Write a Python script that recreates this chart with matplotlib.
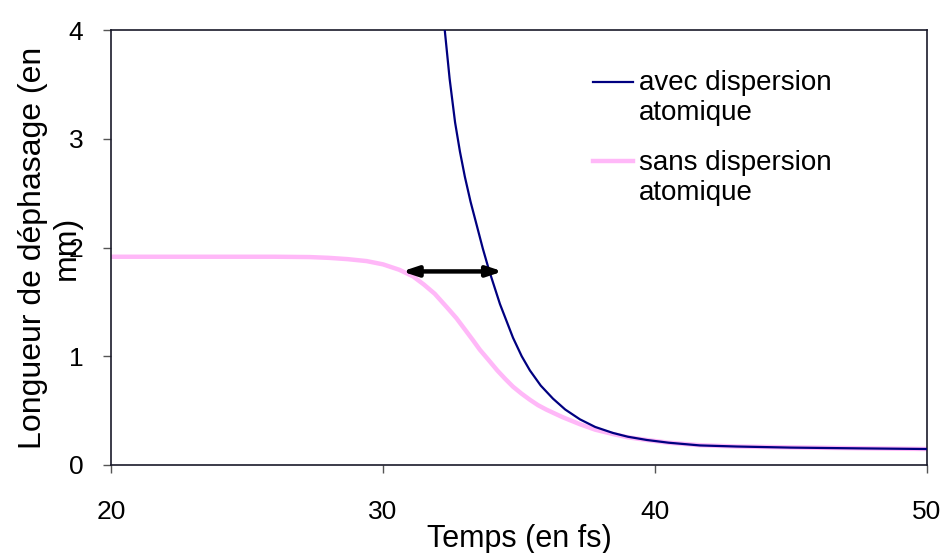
import matplotlib.pyplot as plt
from matplotlib.lines import Line2D

plt.rcParams['font.family'] = ['Liberation Sans', 'DejaVu Sans']

# courbe "avec dispersion atomique"
t_avec = [32.27, 32.45, 32.65, 32.83, 33.01, 33.22, 33.44, 33.67, 33.9, 34.3,
          34.78, 35.1, 35.4, 35.8, 36.25, 36.7, 37.24, 37.8, 38.45, 39.0,
          39.7, 40.5, 41.65, 43.0, 45.0, 47.5, 50.0]
l_avec = [4.0, 3.55, 3.15, 2.88, 2.65, 2.42, 2.21, 1.99, 1.79, 1.48,
          1.17, 1.0, 0.87, 0.73, 0.61, 0.51, 0.42, 0.35, 0.295, 0.26,
          0.23, 0.205, 0.18, 0.17, 0.16, 0.153, 0.147]

# courbe "sans dispersion atomique"
t_sans = [20, 26, 27.3, 28.0, 28.7, 29.4, 30.0, 30.6, 31.1, 31.5, 31.9, 32.35,
          32.7, 33.0, 33.3, 33.56, 33.9, 34.2, 34.5, 34.78, 35.1, 35.4, 35.7,
          36.0, 36.6, 37.24, 37.8, 38.45, 39.0, 39.7, 40.5, 41.65, 43, 45,
          47.5, 50]
l_sans = [1.915, 1.915, 1.912, 1.905, 1.893, 1.875, 1.845, 1.795, 1.735, 1.66,
          1.575, 1.45, 1.35, 1.25, 1.15, 1.06, 0.96, 0.87, 0.79, 0.72, 0.655,
          0.60, 0.55, 0.51, 0.44, 0.375, 0.325, 0.285, 0.255, 0.23, 0.205,
          0.182, 0.17, 0.162, 0.154, 0.147]

# double fleche (decalage entre les deux courbes)
fleche_t = (30.7, 34.4)
fleche_l = 1.78

xticks = [20, 30, 40, 50]
yticks = [0, 1, 2, 3, 4]

col_avec = "#000080"
col_sans = "#FFB8F8"

fig = plt.figure(figsize=(9.43, 5.53), dpi=100)
ax = fig.add_axes([111 / 943, 1 - 465 / 553, (927 - 111) / 943, (465 - 30) / 553])

ax.plot(t_sans, l_sans, color=col_sans, lw=3.2, solid_capstyle="butt", zorder=2)
ax.plot(t_avec, l_avec, color=col_avec, lw=1.6, zorder=3)

ax.annotate("", xy=(fleche_t[1], fleche_l), xytext=(fleche_t[0], fleche_l),
            arrowprops=dict(arrowstyle="<|-|>,head_length=0.9,head_width=0.3",
                            color="black", lw=3.2, shrinkA=0, shrinkB=0), zorder=4)

ax.set_xlim(20, 50)
ax.set_ylim(0, 4)
ax.set_xticks(xticks)
ax.set_yticks(yticks)
ax.tick_params(axis="both", direction="out", length=6, width=1, color="#555555")
ax.tick_params(axis="x", labelsize=19, pad=19)
ax.tick_params(axis="y", labelsize=19, pad=14)
for s in ax.spines.values():
    s.set_linewidth(1.2)
    s.set_color("#1a1a2a")

ax.set_xlabel("Temps (en fs)", fontsize=22, labelpad=0)
fig.text(50 / 943, 1 - 248 / 553, "Longueur de déphasage (en\nmm)", rotation=90,
         ha="center", va="center", multialignment="center", fontsize=23,
         linespacing=1.2)

# legende sans cadre, trait aligne sur la premiere ligne
legende = [("avec dispersion\natomique", col_avec, 1.6, 82, 70),
           ("sans dispersion\natomique", col_sans, 3.2, 161, 150)]
for lab, c, lw, ypx, ytxt in legende:
    yf = 1 - ypx / 553
    fig.add_artist(Line2D([593 / 943, 633 / 943], [yf, yf], color=c, lw=lw))
    fig.text(639 / 943, 1 - ytxt / 553, lab, ha="left", va="top", fontsize=20,
             linespacing=1.2)

fig.savefig("out.png", dpi=100)
